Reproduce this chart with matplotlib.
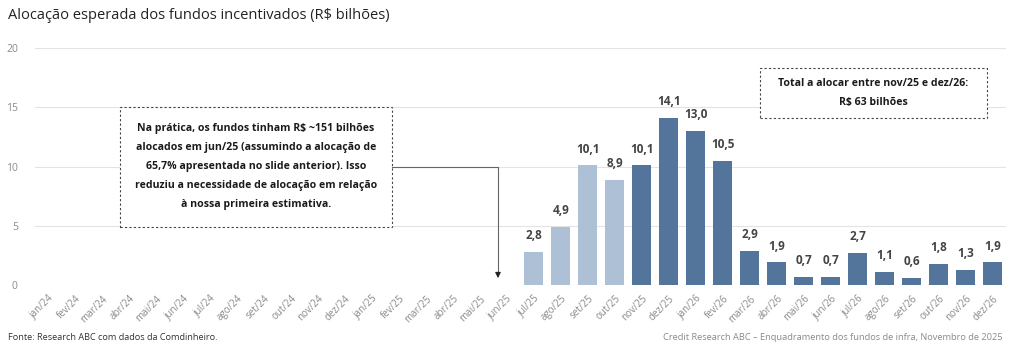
import matplotlib.pyplot as plt
from matplotlib.patches import Rectangle

plt.rcParams['font.family'] = ['Open Sans', 'DejaVu Sans']

# Dados
meses = ['jan/24', 'fev/24', 'mar/24', 'abr/24', 'mai/24', 'jun/24', 'jul/24', 'ago/24',
         'set/24', 'out/24', 'nov/24', 'dez/24', 'jan/25', 'fev/25', 'mar/25', 'abr/25',
         'mai/25', 'jun/25', 'jul/25', 'ago/25', 'set/25', 'out/25', 'nov/25', 'dez/25',
         'jan/26', 'fev/26', 'mar/26', 'abr/26', 'mai/26', 'jun/26', 'jul/26', 'ago/26',
         'set/26', 'out/26', 'nov/26', 'dez/26']
meses_realizado = ['jul/25', 'ago/25', 'set/25', 'out/25']
valores_realizado = [2.8, 4.9, 10.1, 8.9]
meses_projetado = ['nov/25', 'dez/25', 'jan/26', 'fev/26', 'mar/26', 'abr/26', 'mai/26',
                   'jun/26', 'jul/26', 'ago/26', 'set/26', 'out/26', 'nov/26', 'dez/26']
valores_projetado = [10.1, 14.1, 13.0, 10.5, 2.9, 1.9, 0.7, 0.7, 2.7, 1.1, 0.6, 1.8, 1.3, 1.9]

cor_clara = '#adc0d6'
cor_escura = '#53749b'
cinza = '#8a8a8a'

fig = plt.figure(figsize=(10.24, 3.52), dpi=100)
ax = fig.add_axes([0.0337, 0.1903, 0.949, 0.6733])

pos = {m: i for i, m in enumerate(meses)}
x_r = [pos[m] for m in meses_realizado]
x_p = [pos[m] for m in meses_projetado]

b1 = ax.bar(x_r, valores_realizado, width=0.7, color=cor_clara, zorder=3)
b2 = ax.bar(x_p, valores_projetado, width=0.7, color=cor_escura, zorder=3)

for barras, vals in [(b1, valores_realizado), (b2, valores_projetado)]:
    for b, v in zip(barras, vals):
        ax.annotate(f'{v:.1f}'.replace('.', ','), (b.get_x() + b.get_width() / 2, v),
                    xytext=(0, 7), textcoords='offset points', ha='center', va='bottom',
                    fontsize=8.5, fontweight='bold', color='#444444')

ax.set_xlim(-0.5, len(meses) - 0.5)
ax.set_ylim(0, 20)
ax.set_yticks([0, 5, 10, 15, 20])
ax.set_xticks(range(len(meses)))
ax.set_xticklabels(meses, rotation=45, ha='right', rotation_mode='anchor',
                   fontsize=7, color=cinza)
ax.tick_params(axis='y', labelsize=7.5, labelcolor=cinza, length=0, pad=12)
ax.tick_params(axis='x', length=0, pad=6)
ax.grid(axis='y', color='#e3e3e3', linewidth=0.8, zorder=0)
for s in ax.spines.values():
    s.set_visible(False)

# Caixa de comentario 1
ax.add_patch(Rectangle((2.67, 4.9), 10.07, 10.1, fill=True, fc='white', ec='#444444',
                       ls=(0, (2, 2)), lw=0.8, zorder=4))
ax.text(7.7, 10.0, 'Na prática, os fundos tinham R$ ~151 bilhões\n'
        'alocados em jun/25 (assumindo a alocação de\n'
        '65,7% apresentada no slide anterior). Isso\n'
        'reduziu a necessidade de alocação em relação\n'
        'à nossa primeira estimativa.',
        ha='center', va='center', fontsize=7.6, fontweight='bold', color='#1a1a1a',
        linespacing=2.0, zorder=5)
ax.plot([12.74, 16.67, 16.67], [10.0, 10.0, 1.0], color='#666666', lw=0.8, zorder=4)
ax.annotate('', xy=(16.67, 0.35), xytext=(16.67, 1.2),
            arrowprops=dict(arrowstyle='-|>', color='#222222', lw=0.8,
                            mutation_scale=8), zorder=4)

# Caixa de comentario 2
ax.add_patch(Rectangle((26.37, 14.1), 8.41, 4.2, fill=True, fc='white', ec='#444444',
                       ls=(0, (2, 2)), lw=0.8, zorder=4))
ax.text(30.57, 16.2, 'Total a alocar entre nov/25 e dez/26:\nR$ 63 bilhões',
        ha='center', va='center', fontsize=7.6, fontweight='bold', color='#1a1a1a',
        linespacing=2.0, zorder=5)

fig.text(0.008, 0.955, 'Alocação esperada dos fundos incentivados (R$ bilhões)',
         fontsize=10.5, color='#222222', ha='left', va='center')
fig.text(0.008, 0.04, 'Fonte: Research ABC com dados da Comdinheiro.',
         fontsize=6.6, color='#333333', ha='left', va='center')
fig.text(0.979, 0.04, 'Credit Research ABC – Enquadramento dos fundos de infra, Novembro de 2025',
         fontsize=6.7, color=cinza, ha='right', va='center')

fig.savefig('out.png', dpi=100)
